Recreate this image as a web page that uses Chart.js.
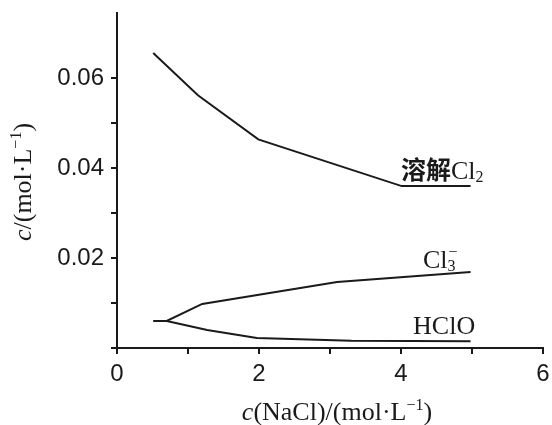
<!DOCTYPE html>
<html><head><meta charset="utf-8">
<script src="https://cdn.jsdelivr.net/npm/chart.js@4/dist/chart.umd.min.js"></script>
<style>html,body{margin:0;padding:0;background:#fff}#wrap{width:552px;height:425px}</style>
</head><body><div id="wrap"><canvas id="c" width="552" height="425"></canvas></div>
<script>
// ---- data ----
const dissolvedX = [0.51, 1.14, 1.99, 4.01, 4.98];
const dissolvedY = [0.0656, 0.0562, 0.0464, 0.0360, 0.0360];
const cl3X = [0.51, 0.70, 1.20, 3.10, 4.98];
const cl3Y = [0.0060, 0.0060, 0.0098, 0.0147, 0.0169];
const hcloX = [0.70, 1.27, 1.97, 3.30, 4.98];
const hcloY = [0.0060, 0.0040, 0.0022, 0.0016, 0.0015];
const xTickLabels = [0, 2, 4, 6];
const yTickLabels = [0.02, 0.04, 0.06];
const seriesNames = ['溶解Cl2', 'Cl3-', 'HClO'];
// label anchors in data units (left edge, vertical middle)
const labelX = [4.00, 4.31, 4.17];
const labelY = [0.0396, 0.0198, 0.0051];

const pts = (xs, ys) => xs.map((x, i) => ({x, y: ys[i]}));
const ink = '#1a1a1a';
const serif = '"Liberation Serif", "Times New Roman", serif';
const sans = '"Liberation Sans", Arial, sans-serif';
const cjk = '"Noto Sans CJK SC", sans-serif';

function drawRich(ctx, x, y, segs) {
  let cx = x;
  for (const s of segs) {
    ctx.font = s.f;
    ctx.fillText(s.t, cx, y + (s.dy || 0));
    cx += ctx.measureText(s.t).width + (s.gap || 0);
  }
  return cx - x;
}
function richWidth(ctx, segs) {
  let w = 0;
  for (const s of segs) { ctx.font = s.f; w += ctx.measureText(s.t).width + (s.gap || 0); }
  return w;
}

const textPlugin = {
  id: 'texts',
  afterDraw(chart) {
    const ctx = chart.ctx, xs = chart.scales.x, ys = chart.scales.y;
    ctx.save();
    ctx.fillStyle = ink;
    ctx.textBaseline = 'alphabetic';
    const F = 26;
    const big = F + 'px ' + serif, small = Math.round(F * 0.6) + 'px ' + serif;
    const labelSegs = [
      [{t: '溶解', f: 'bold ' + (F - 1) + 'px ' + cjk}, {t: 'Cl', f: big}, {t: '2', f: small, dy: 3}],
      [{t: 'Cl', f: big}, {t: '3', f: small, dy: 3, gap: -7}, {t: '−', f: small, dy: -11}],
      [{t: 'HClO', f: big}]
    ];
    labelSegs.forEach((segs, i) => {
      const px = xs.getPixelForValue(labelX[i]);
      const py = ys.getPixelForValue(labelY[i]) + 9;
      drawRich(ctx, px, py, segs);
    });
    // x axis title
    const AF = 26;
    const tf = AF + 'px ' + serif, ti = 'italic ' + AF + 'px ' + serif, ts = Math.round(AF * 0.6) + 'px ' + serif;
    const xt = [{t: 'c', f: ti}, {t: '(NaCl)/(mol·L', f: tf}, {t: '−1', f: ts, dy: -10}, {t: ')', f: tf}];
    const xw = richWidth(ctx, xt);
    drawRich(ctx, 337 - xw / 2, 420, xt);
    // y axis title
    const yt = [{t: 'c', f: ti}, {t: '/(mol·L', f: tf}, {t: '−1', f: ts, dy: -10}, {t: ')', f: tf}];
    const yw = richWidth(ctx, yt);
    ctx.translate(31, 182);
    ctx.rotate(-Math.PI / 2);
    drawRich(ctx, -yw / 2, 0, yt);
    ctx.restore();
  }
};

const lineDs = (label, data) => ({
  label, data, showLine: true, borderColor: ink, borderWidth: 2,
  pointRadius: 0, fill: false, tension: 0
});

new Chart(document.getElementById('c'), {
  type: 'scatter',
  data: {
    datasets: [
      lineDs(seriesNames[0], pts(dissolvedX, dissolvedY)),
      lineDs(seriesNames[1], pts(cl3X, cl3Y)),
      lineDs(seriesNames[2], pts(hcloX, hcloY))
    ]
  },
  options: {
    responsive: false,
    animation: false,
    devicePixelRatio: 1,
    layout: {padding: {top: 13, right: 9, left: 0, bottom: 0}},
    plugins: {legend: {display: false}, tooltip: {enabled: false}},
    scales: {
      x: {
        type: 'linear', min: 0, max: 6,
        afterFit: s => { s.height = 77; s.paddingLeft = 0; s.paddingRight = 0; },
        border: {display: true, color: ink, width: 2},
        grid: {drawOnChartArea: false, drawTicks: true, tickLength: 6, color: ink, lineWidth: 2},
        ticks: {
          stepSize: 1, padding: 6, color: ink, maxRotation: 0, autoSkip: false,
          font: {family: sans, size: 24},
          callback: v => xTickLabels.includes(v) ? String(v) : ''
        }
      },
      y: {
        type: 'linear', min: 0, max: 0.0745,
        afterFit: s => { s.width = 117; s.paddingTop = 0; s.paddingBottom = 0; },
        afterBuildTicks: s => {
          s.ticks = s.ticks.filter(t => Math.abs(t.value * 100 - Math.round(t.value * 100)) < 1e-6);
        },
        border: {display: true, color: ink, width: 2},
        grid: {drawOnChartArea: false, drawTicks: true, tickLength: 6, color: ink, lineWidth: 2},
        ticks: {
          stepSize: 0.01, padding: 7, color: ink, autoSkip: false,
          font: {family: sans, size: 24},
          callback: v => yTickLabels.some(t => Math.abs(t - v) < 1e-9) ? v.toFixed(2) : ''
        }
      }
    }
  },
  plugins: [textPlugin]
});
</script>
</body></html>
